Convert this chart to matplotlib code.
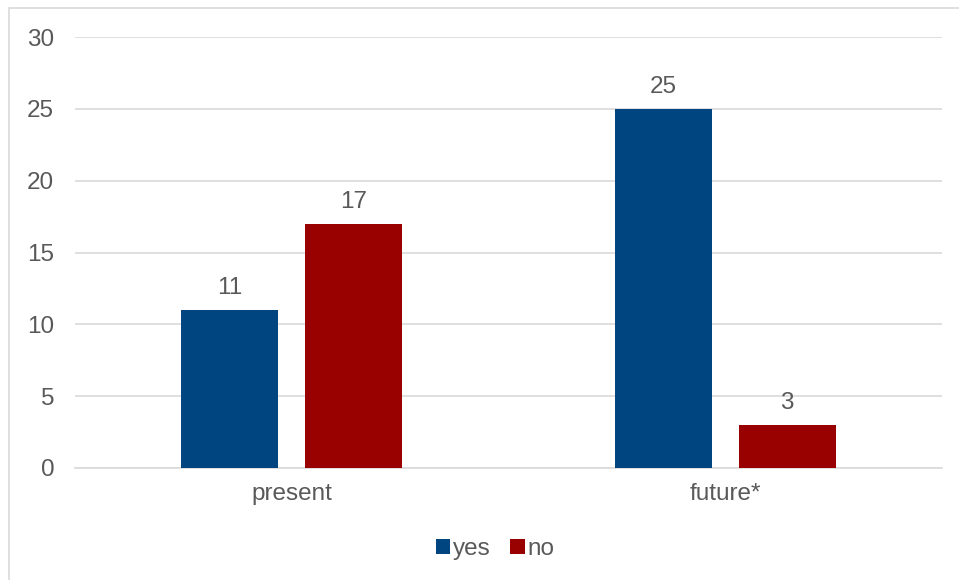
import matplotlib.pyplot as plt
import numpy as np
from matplotlib.patches import Rectangle

categories = ['present', 'future*']
yes_values = [11, 25]
no_values = [17, 3]

plt.rcParams['font.family'] = ['Liberation Sans', 'DejaVu Sans']
text_color = '#595959'
blue = '#00457F'
red = '#990000'
fs = 17.5

fig = plt.figure(figsize=(9.59, 5.80), dpi=100)
# ramka wykresu
fig.patches.append(Rectangle((9 / 959, -0.1), 1.2, 1 - 8 / 580 + 0.1,
                             transform=fig.transFigure, fill=False,
                             edgecolor='#D9D9D9', linewidth=1.2))
ax = fig.add_axes([75 / 959, 1 - 468 / 580, 867 / 959, 431 / 580])

x = np.arange(len(categories))
width = 0.224
offset = 0.143
bars_yes = ax.bar(x - offset, yes_values, width, color=blue, label='yes', zorder=3)
bars_no = ax.bar(x + offset, no_values, width, color=red, label='no', zorder=3)

for bars in (bars_yes, bars_no):
    for b in bars:
        ax.annotate(str(int(b.get_height())),
                    (b.get_x() + b.get_width() / 2, b.get_height()),
                    xytext=(0, 8), textcoords='offset points',
                    ha='center', va='bottom', fontsize=fs, color=text_color)

ax.set_xlim(-0.5, 1.5)
ax.set_ylim(0, 30)
ax.set_yticks(range(0, 31, 5))
ax.set_xticks(x)
ax.set_xticklabels(categories)
ax.tick_params(axis='both', length=0, labelsize=fs, labelcolor=text_color)
ax.tick_params(axis='y', pad=15)
ax.tick_params(axis='x', pad=11)
ax.grid(axis='y', color='#D9D9D9', linewidth=1.2, zorder=0)
for s in ['top', 'right', 'left']:
    ax.spines[s].set_visible(False)
ax.spines['bottom'].set_color('#D9D9D9')
ax.spines['bottom'].set_linewidth(1.2)

fig.legend(loc='center', bbox_to_anchor=(495 / 959, 1 - 549 / 580), ncol=2,
           frameon=False, fontsize=fs, labelcolor=text_color,
           handlelength=0.6, handleheight=0.6, handletextpad=0.1,
           columnspacing=0.8)

fig.savefig('out.png', dpi=100)
